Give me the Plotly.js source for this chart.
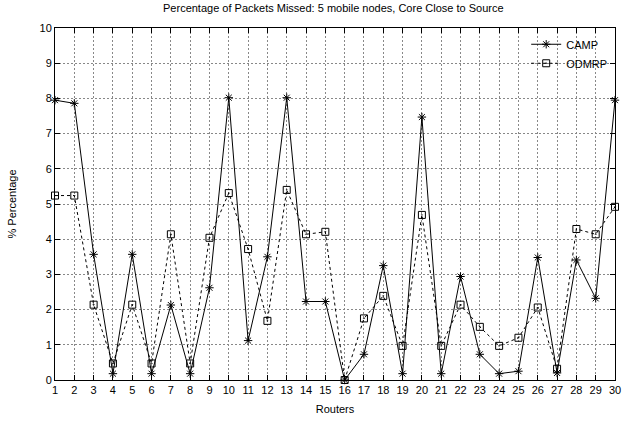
<!DOCTYPE html>
<html>
<head>
<meta charset="utf-8">
<script src="https://cdn.plot.ly/plotly-3.0.1.min.js"></script>
<style>html,body{margin:0;padding:0;background:#fff;}#chart{width:623px;height:423px;}</style>
</head>
<body>
<div id="chart"></div>
<script>
var routers = [1,2,3,4,5,6,7,8,9,10,11,12,13,14,15,16,17,18,19,20,21,22,23,24,25,26,27,28,29,30];
var campValues = [7.95,7.86,3.57,0.18,3.57,0.18,2.13,0.18,2.62,8.02,1.12,3.5,8.02,2.23,2.23,0.0,0.73,3.25,0.18,7.47,0.18,2.94,0.73,0.18,0.25,3.48,0.2,3.41,2.32,7.95];
var odmrpValues = [5.24,5.24,2.14,0.47,2.14,0.47,4.14,0.47,4.04,5.31,3.72,1.68,5.4,4.14,4.21,0.0,1.75,2.39,0.97,4.69,0.97,2.14,1.51,0.97,1.2,2.06,0.32,4.29,4.14,4.92];
var seriesNames = ["CAMP","ODMRP"];
var titleText = "Percentage of Packets Missed: 5 mobile nodes, Core Close to Source";
var xTitle = "Routers";
var yTitle = "% Percentage";

var font = "Liberation Sans, Arial, Helvetica, sans-serif";
var traces = [
  {x: routers, y: campValues, name: seriesNames[0], type: "scatter", mode: "lines+markers",
   line: {color: "#000", width: 1, dash: "solid"},
   marker: {symbol: "asterisk-open", size: 7, color: "#000", line: {color: "#000", width: 1}},
   cliponaxis: false},
  {x: routers, y: odmrpValues, name: seriesNames[1], type: "scatter", mode: "lines+markers",
   line: {color: "#000", width: 1, dash: "dot"},
   marker: {symbol: "square-open-dot", size: 7, color: "#000", line: {color: "#000", width: 1}},
   cliponaxis: false}
];
var layout = {
  width: 623, height: 423,
  margin: {l: 55, r: 8, t: 28, b: 43},
  paper_bgcolor: "#fff", plot_bgcolor: "#fff",
  font: {family: font, size: 11, color: "#000"},
  title: {text: titleText, font: {family: font, size: 11, color: "#000"}, x: 0.535, xanchor: "center", y: 0.99, yanchor: "top"},
  xaxis: {range: [1, 30], tickmode: "linear", tick0: 1, dtick: 1,
    showline: true, linecolor: "#000", linewidth: 1, mirror: "ticks",
    ticks: "inside", ticklen: 5, tickcolor: "#000",
    showgrid: true, gridcolor: "#888", griddash: "2px,2px", gridwidth: 1,
    zeroline: false, tickfont: {size: 11},
    title: {text: xTitle, font: {size: 11}, standoff: 10}},
  yaxis: {range: [0, 10], tickmode: "linear", tick0: 0, dtick: 1,
    showline: true, linecolor: "#000", linewidth: 1, mirror: "ticks",
    ticks: "inside", ticklen: 5, tickcolor: "#000",
    showgrid: true, gridcolor: "#888", griddash: "2px,2px", gridwidth: 1,
    zeroline: false, tickfont: {size: 11},
    title: {text: yTitle, font: {size: 11}, standoff: 20}},
  showlegend: true,
  legend: {x: 0.995, xanchor: "right", y: 0.995, yanchor: "top", bgcolor: "rgba(255,255,255,0)",
    borderwidth: 0, font: {size: 11}, tracegroupgap: 0, itemwidth: 30}
};
Plotly.newPlot("chart", traces, layout, {staticPlot: true, displayModeBar: false});
</script>
</body>
</html>
